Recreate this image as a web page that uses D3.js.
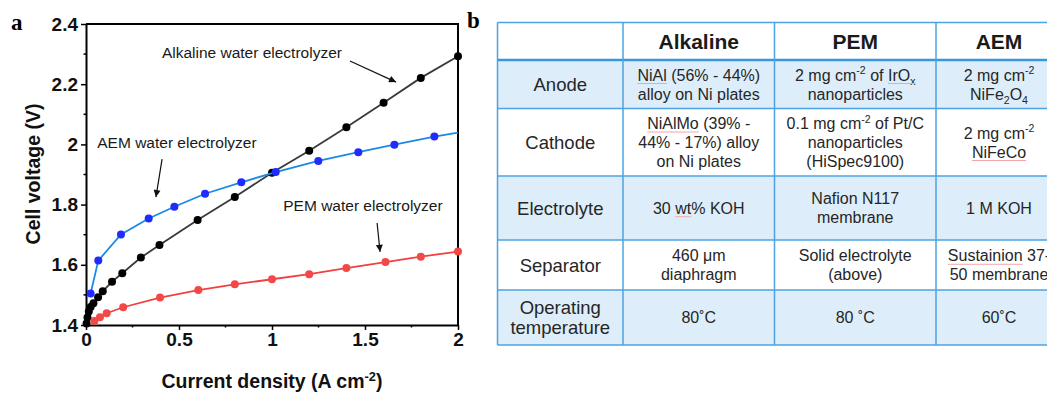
<!DOCTYPE html>
<html><head><meta charset="utf-8">
<script src="https://cdn.jsdelivr.net/npm/d3@7"></script>
<style>body{margin:0;background:#fff} svg{display:block}</style>
</head><body>
<svg id="c" width="1047" height="393"></svg>
<script>
// ---- Chart data (panel a) ----
const alkalineX = [0.003, 0.008, 0.015, 0.025, 0.04, 0.065, 0.09, 0.14, 0.195, 0.295, 0.395, 0.6, 0.8, 1.0, 1.2, 1.4, 1.6, 1.8, 2.0];
const alkalineV = [1.405, 1.425, 1.445, 1.46, 1.472, 1.492, 1.512, 1.544, 1.572, 1.624, 1.666, 1.749, 1.825, 1.906, 1.979, 2.057, 2.138, 2.221, 2.293];
const aemX = [0.025, 0.066, 0.188, 0.337, 0.475, 0.64, 0.835, 1.02, 1.249, 1.464, 1.658, 1.873, 2.0];
const aemV = [1.505, 1.614, 1.701, 1.754, 1.793, 1.836, 1.874, 1.908, 1.945, 1.974, 1.999, 2.026, 2.039];
const aemMarked = [true, true, true, true, true, true, true, true, true, true, true, true, false];
const pemX = [0.045, 0.075, 0.111, 0.2, 0.398, 0.604, 0.8, 1.0, 1.2, 1.4, 1.61, 1.8, 2.0];
const pemV = [1.413, 1.426, 1.439, 1.459, 1.491, 1.516, 1.535, 1.552, 1.569, 1.589, 1.609, 1.627, 1.644];
const xTicks = [0, 0.5, 1, 1.5, 2];
const xMinorTicks = [0.25, 0.75, 1.25, 1.75];
const yTicks = [1.4, 1.6, 1.8, 2.0, 2.2, 2.4];
const yMinorTicks = [1.5, 1.7, 1.9, 2.1, 2.3];
const annotationLabels = ["Alkaline water electrolyzer", "AEM water electrolyzer", "PEM water electrolyzer"];
const annotationTextAt = [[0.892, 2.287], [0.489, 1.988], [1.489, 1.779]];
const annotationArrowFrom = [[1.419, 2.277], [0.409, 1.951], [1.565, 1.739]];
const annotationArrowTo = [[1.667, 2.207], [0.376, 1.825], [1.581, 1.643]];

// ---- Table data (panel b) ----
const tableHeaders = ["", "Alkaline", "PEM", "AEM"];
const tableRowLabels = [["Anode"], ["Cathode"], ["Electrolyte"], ["Separator"], ["Operating", "temperature"]];
const alkalineCol = [
  ["~NiAl~ (56% - 44%)", "alloy on Ni plates"],
  ["~NiAlMo~ (39% -", "44% - 17%)  alloy", "on Ni plates"],
  ["30 ~wt~% KOH"],
  ["460 μm", "diaphragm"],
  ["80˚C"]
];
const pemCol = [
  ["2 mg cm^{-2} of ~IrO_{x}~", "nanoparticles"],
  ["0.1 mg cm^{-2} of Pt/C", "nanoparticles", "(HiSpec9100)"],
  ["Nafion N117", "membrane"],
  ["Solid electrolyte", "(above)"],
  ["80 ˚C"]
];
const aemCol = [
  ["2 mg cm^{-2}", "NiFe_{2}O_{4}"],
  ["2 mg cm^{-2}", "~NiFeCo~"],
  ["1 M KOH"],
  ["~Sustainion~ 37-", "50 membrane"],
  ["60˚C"]
];
const rowShaded = [true, false, true, false, true];

const svg = d3.select("#c");
const SANS = "Arial, 'Liberation Sans', sans-serif";
const SERIF = "'Times New Roman', 'Liberation Serif', serif";

// ---------- Panel a ----------
const x = d3.scaleLinear().domain([0, 2]).range([86, 458]);
const y = d3.scaleLinear().domain([1.4, 2.4]).range([325, 24]);

const defs = svg.append("defs");
defs.append("marker").attr("id", "ah").attr("viewBox", "0 0 10 10").attr("refX", 10).attr("refY", 5)
  .attr("markerWidth", 9).attr("markerHeight", 7).attr("markerUnits", "userSpaceOnUse").attr("orient", "auto")
  .append("path").attr("d", "M0,0 L10,5 L0,10 z").attr("fill", "#111");

const gAxX = svg.append("g").attr("transform", `translate(0,${y(1.4)})`)
  .call(d3.axisBottom(x).tickValues(xTicks).tickFormat(d3.format("~g")).tickSize(5).tickSizeOuter(0).tickPadding(3));
const gAxY = svg.append("g").attr("transform", `translate(${x(0)},0)`)
  .call(d3.axisLeft(y).tickValues(yTicks).tickFormat(d3.format("~g")).tickSize(5).tickSizeOuter(0).tickPadding(3));
[gAxX, gAxY].forEach(g => {
  g.select(".domain").attr("stroke", "#000").attr("stroke-width", 2);
  g.selectAll(".tick line").attr("stroke", "#000").attr("stroke-width", 1.5);
  g.selectAll(".tick text").attr("font-family", SANS).attr("font-weight", "bold").attr("font-size", 19).attr("fill", "#111");
});
gAxX.selectAll(".minor").data(xMinorTicks).join("line")
  .attr("x1", d => x(d)).attr("x2", d => x(d)).attr("y1", 0).attr("y2", 2.5).attr("stroke", "#000").attr("stroke-width", 1.5);
gAxY.selectAll(".minor").data(yMinorTicks).join("line")
  .attr("y1", d => y(d)).attr("y2", d => y(d)).attr("x1", 0).attr("x2", -2.5).attr("stroke", "#000").attr("stroke-width", 1.5);
// top and right frame
svg.append("path").attr("d", `M${x(0)},${y(2.4)} H${x(2)} V${y(1.4)}`).attr("fill", "none").attr("stroke", "#000").attr("stroke-width", 2);

const series = [
  {xs: alkalineX, vs: alkalineV, line: "#3a3a3a", dot: "#000", marked: alkalineX.map(() => true)},
  {xs: aemX, vs: aemV, line: "#1a8ae6", dot: "#1f2bff", marked: aemMarked},
  {xs: pemX, vs: pemV, line: "#f04040", dot: "#f44848", marked: pemX.map(() => true)}
];
const lineGen = d3.line().x(d => x(d[0])).y(d => y(d[1]));
series.forEach(s => {
  const pts = s.xs.map((v, i) => [v, s.vs[i], s.marked[i]]);
  svg.append("path").datum(pts).attr("d", lineGen).attr("fill", "none").attr("stroke", s.line).attr("stroke-width", 1.8);
  svg.append("g").selectAll("circle").data(pts.filter(p => p[2])).join("circle")
    .attr("cx", d => x(d[0])).attr("cy", d => y(d[1])).attr("r", 4).attr("fill", s.dot);
});

// annotations
annotationLabels.forEach((lab, i) => {
  svg.append("text").attr("x", x(annotationTextAt[i][0])).attr("y", y(annotationTextAt[i][1]))
    .attr("text-anchor", "middle").attr("font-family", SANS).attr("font-size", 15.5).attr("fill", "#1a1a1a").text(lab);
  svg.append("line").attr("x1", x(annotationArrowFrom[i][0])).attr("y1", y(annotationArrowFrom[i][1]))
    .attr("x2", x(annotationArrowTo[i][0])).attr("y2", y(annotationArrowTo[i][1]))
    .attr("stroke", "#111").attr("stroke-width", 1.2).attr("marker-end", "url(#ah)");
});

// rich text helper
function richLine(t, str, size) {
  const parts = str.split(/(\^\{[^}]*\}|_\{[^}]*\}|~[^~]*~)/).filter(s => s.length);
  let shift = 0;
  const addPiece = (s, kind, under) => {
    const want = kind === "sup" ? -size * 0.38 : kind === "sub" ? size * 0.28 : 0;
    const ts = t.append("tspan").text(s).attr("dy", want - shift);
    shift = want;
    if (kind !== "n") ts.attr("font-size", size * 0.66);
    if (under) ts.classed("u", true);
  };
  parts.forEach(p => {
    if (p.startsWith("^{")) addPiece(p.slice(2, -1), "sup", false);
    else if (p.startsWith("_{")) addPiece(p.slice(2, -1), "sub", false);
    else if (p.startsWith("~")) {
      p.slice(1, -1).split(/(\^\{[^}]*\}|_\{[^}]*\})/).filter(s => s.length).forEach(q => {
        if (q.startsWith("_{")) addPiece(q.slice(2, -1), "sub", true);
        else if (q.startsWith("^{")) addPiece(q.slice(2, -1), "sup", true);
        else addPiece(q, "n", true);
      });
    } else addPiece(p, "n", false);
  });
}

// axis titles
const xt = svg.append("text").attr("x", 272).attr("y", 388).attr("text-anchor", "middle")
  .attr("font-family", SANS).attr("font-weight", "bold").attr("font-size", 19.5).attr("fill", "#111");
richLine(xt, "Current density (A cm^{-2})", 19.5);
svg.append("text").attr("transform", "translate(40,174) rotate(-90)").attr("text-anchor", "middle")
  .attr("font-family", SANS).attr("font-weight", "bold").attr("font-size", 19.5).attr("fill", "#111").text("Cell voltage (V)");

// panel letters
svg.append("text").attr("x", 11).attr("y", 30).attr("font-family", SERIF).attr("font-weight", "bold").attr("font-size", 23).text("a");
svg.append("text").attr("x", 467).attr("y", 28).attr("font-family", SERIF).attr("font-weight", "bold").attr("font-size", 23).text("b");

// ---------- Panel b (table) ----------
const colEdges = [497.5, 623, 774.5, 936, 1062];
const rowEdges = [22.5, 60, 108.5, 176, 240, 290, 345];
const BORDER = "#4ba3e3";
const FILL = "#ddeefa";
const tb = svg.append("g");
rowShaded.forEach((sh, r) => {
  if (sh) tb.append("rect").attr("x", colEdges[0]).attr("y", rowEdges[r + 1])
    .attr("width", colEdges[4] - colEdges[0]).attr("height", rowEdges[r + 2] - rowEdges[r + 1]).attr("fill", FILL);
});
rowEdges.forEach((ry, i) => {
  tb.append("line").attr("x1", colEdges[0]).attr("x2", colEdges[4]).attr("y1", ry).attr("y2", ry)
    .attr("stroke", i === 1 ? "#3896dc" : BORDER).attr("stroke-width", i === 1 ? 2.6 : 1.5);
});
colEdges.forEach(cx => {
  tb.append("line").attr("x1", cx).attr("x2", cx).attr("y1", rowEdges[0]).attr("y2", rowEdges[6])
    .attr("stroke", BORDER).attr("stroke-width", 1.5);
});
const colCenter = i => (colEdges[i] + colEdges[i + 1]) / 2;
const rowCenter = i => (rowEdges[i] + rowEdges[i + 1]) / 2;

tableHeaders.forEach((h, c) => {
  if (!h) return;
  tb.append("text").attr("x", colCenter(c)).attr("y", rowCenter(0) + 7.5).attr("text-anchor", "middle")
    .attr("font-family", SANS).attr("font-weight", "bold").attr("font-size", 21).attr("fill", "#1a1a1a").text(h);
});

function cell(c, r, lines, size, lh, color) {
  const cyc = rowCenter(r + 1);
  lines.forEach((ln, i) => {
    const yy = cyc + size * 0.36 + (i - (lines.length - 1) / 2) * lh;
    const t = tb.append("text").attr("x", colCenter(c)).attr("y", yy).attr("text-anchor", "middle")
      .attr("font-family", SANS).attr("font-size", size).attr("fill", color);
    richLine(t, ln, size);
    t.selectAll("tspan.u").each(function () {
      const n = this;
      if (!n.getNumberOfChars()) return;
      const sx = n.getStartPositionOfChar(0).x;
      const len = n.getComputedTextLength();
      tb.append("line").attr("x1", sx).attr("x2", sx + len).attr("y1", yy + 3).attr("y2", yy + 3)
        .attr("stroke", "#f2a5a5").attr("stroke-width", 1);
    });
  });
}
tableRowLabels.forEach((l, r) => cell(0, r, l, 18.5, 20, "#262626"));
alkalineCol.forEach((l, r) => cell(1, r, l, 16, 19, "#262626"));
pemCol.forEach((l, r) => cell(2, r, l, 16, 19, "#262626"));
aemCol.forEach((l, r) => cell(3, r, l, 16, 19, "#262626"));
</script>
</body></html>
